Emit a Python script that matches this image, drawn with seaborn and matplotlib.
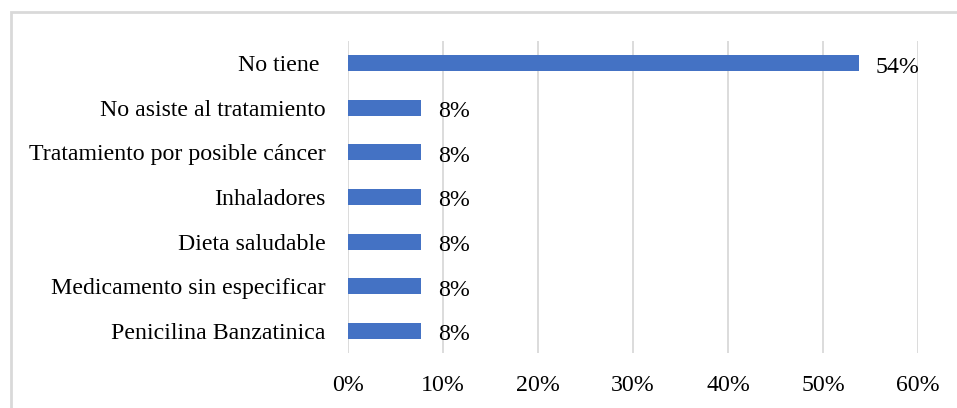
import matplotlib
matplotlib.use("Agg")
import matplotlib.pyplot as plt
import seaborn as sns
import pandas as pd
from matplotlib.patches import Rectangle

categories = ["No tiene ", "No asiste al tratamiento", "Tratamiento por posible cáncer",
              "Inhaladores", "Dieta saludable", "Medicamento sin especificar",
              "Penicilina Banzatinica"]
values = [53.8, 7.7, 7.7, 7.7, 7.7, 7.7, 7.7]
labels = ["54%", "8%", "8%", "8%", "8%", "8%", "8%"]
ticks = [0, 10, 20, 30, 40, 50, 60]
tick_labels = ["0%", "10%", "20%", "30%", "40%", "50%", "60%"]

sns.set_theme(style="white")
plt.rcParams['font.family'] = ['Liberation Serif', 'DejaVu Serif']

W, H = 957, 408
fig = plt.figure(figsize=(W / 100, H / 100), dpi=100)
ax = fig.add_axes([348 / W, 1 - 353 / H, (918 - 348) / W, (353 - 41) / H])

df = pd.DataFrame({"cat": categories, "val": values})
sns.barplot(data=df, x="val", y="cat", color="#4472C4", saturation=1,
            width=0.36, linewidth=0, ax=ax, zorder=3)

ax.set_xlim(0, 60)
ax.set_xticks(ticks)
ax.set_xticklabels(tick_labels)
ax.xaxis.grid(True, color="#D9D9D9", linewidth=1.3, zorder=0)
ax.set_axisbelow(True)
for s in ax.spines.values():
    s.set_visible(False)
ax.set_xlabel("")
ax.set_ylabel("")
ax.tick_params(axis="x", length=0, pad=16, labelsize=17.2, colors="#000000")
ax.tick_params(axis="y", length=0, pad=16, labelsize=17.2, colors="#000000")

for i, (v, lab) in enumerate(zip(values, labels)):
    ax.annotate(lab, (v, i), xytext=(12, -1), textcoords="offset points",
                va="center_baseline", ha="left", fontsize=17.2, color="#000000")

fig.patches.append(Rectangle((11 / W, -0.1), 1.2, (1 - 12 / H) + 0.1,
                             transform=fig.transFigure, fill=False,
                             edgecolor="#D9D9D9", linewidth=2))

fig.savefig("out.png", dpi=100)
